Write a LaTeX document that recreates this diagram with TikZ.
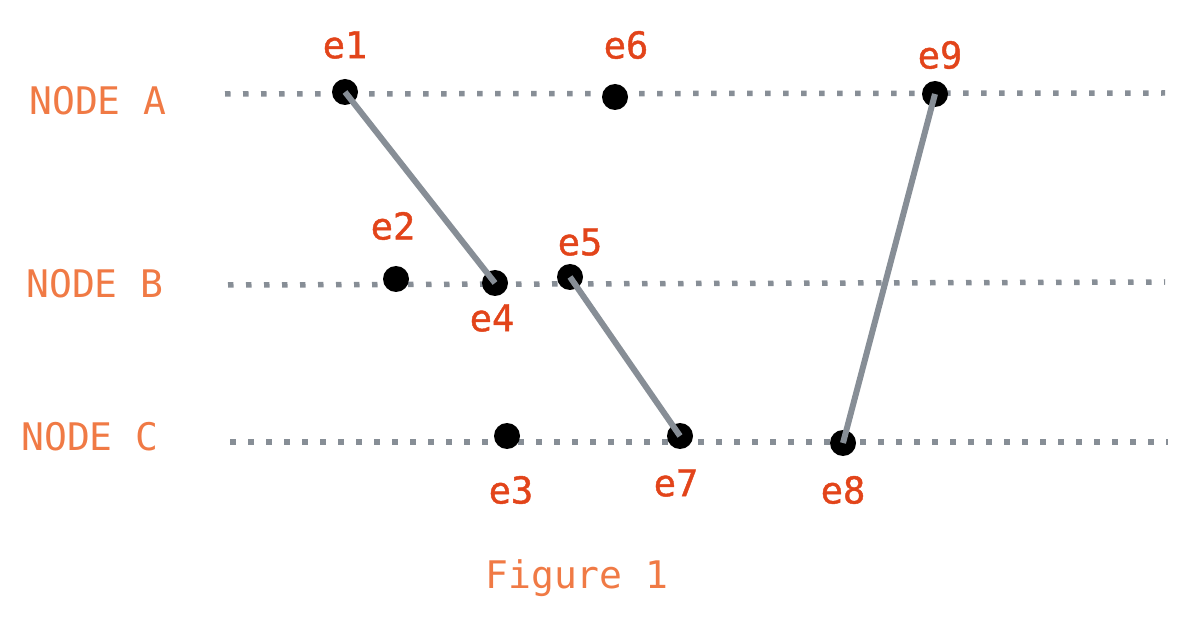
\documentclass[tikz,border=0pt]{standalone}
\usepackage{fontspec}
\setmonofont{DejaVu Sans Mono}
\newfontfamily\evfont{DejaVu Sans Mono}[FakeBold=1.2]
\definecolor{lbl}{HTML}{F07A45}
\definecolor{ev}{HTML}{E2441A}
\definecolor{gl}{HTML}{878E96}
\begin{document}
\begin{tikzpicture}[x=1pt,y=-1pt,
  lane/.style={draw=gl,line width=5.5pt,dash pattern=on 5.5pt off 12.5pt},
  ev/.style={circle,fill=black,inner sep=0pt,minimum size=26pt},
  evl/.style={text=ev,font=\fontsize{37}{37}\selectfont\evfont},
  nl/.style={text=lbl,font=\fontsize{38}{38}\selectfont\ttfamily},
  conn/.style={draw=gl,line width=6pt}]
\useasboundingbox (0,0) rectangle (1187,620);
% lanes
\coordinate (la0) at (225,94); \coordinate (la1) at (1165,93);
\coordinate (lb0) at (228,285); \coordinate (lb1) at (1165,282);
\coordinate (lc0) at (230,442); \coordinate (lc1) at (1168,442);
\draw[lane] (la0) -- (la1);
\draw[lane] (lb0) -- (lb1);
\draw[lane] (lc0) -- (lc1);
% lane labels
\node[nl] (na) at (98,101) {NODE A};
\node[nl] (nb) at (95,284) {NODE B};
\node[nl] (nc) at (90,437) {NODE C};
% events
\node[ev] (e1) at (345,92) {};
\node[ev] (e6) at (615,97) {};
\node[ev] (e9) at (935,94) {};
\node[ev] (e2) at (396,279) {};
\node[ev] (e4) at (495,283) {};
\node[ev] (e5) at (570,277) {};
\node[ev] (e3) at (507,436) {};
\node[ev] (e7) at (680,436) {};
\node[ev] (e8) at (843,443) {};
% connectors
\draw[conn] (e1.center) -- (e4.center);
\draw[conn] (e5.center) -- (e7.center);
\draw[conn] (e9.center) -- (e8.center);
% event labels
\node[evl] (t1) at (345,45) {e1};
\node[evl] (t6) at (626,45) {e6};
\node[evl] (t9) at (940,55) {e9};
\node[evl] (t2) at (393,226) {e2};
\node[evl] (t5) at (580,242) {e5};
\node[evl] (t4) at (492,318) {e4};
\node[evl] (t3) at (511,490) {e3};
\node[evl] (t7) at (676,483) {e7};
\node[evl] (t8) at (843,490) {e8};
% caption
\node[nl] (cap) at (577,578) {Figure 1};
\end{tikzpicture}
\end{document}
